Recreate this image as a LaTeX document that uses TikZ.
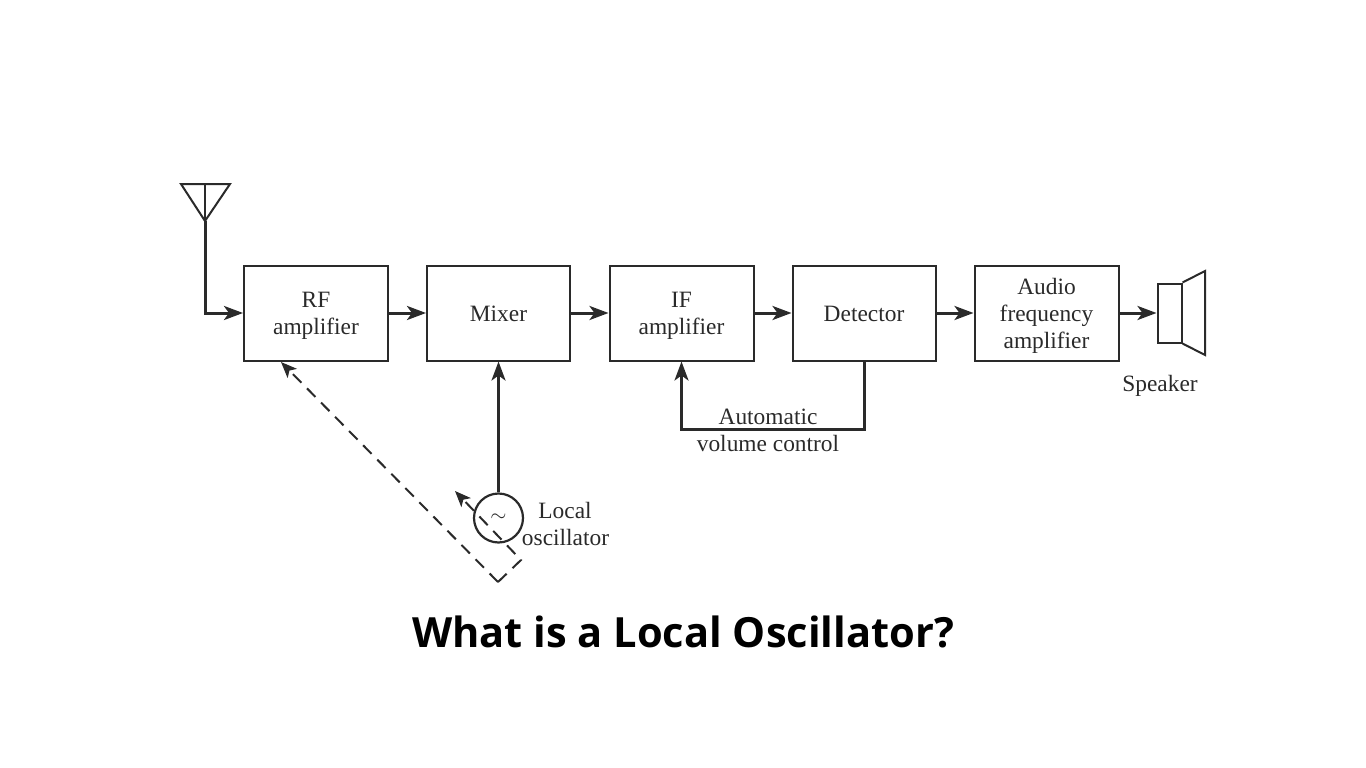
\documentclass[tikz,border=0pt]{standalone}
\usepackage{fontspec}
\setmainfont{Liberation Serif}
\newfontfamily\titlefont{Open Sans}
\usetikzlibrary{arrows.meta,calc}
\definecolor{ink}{HTML}{2A2A2A}
\tikzset{
  x=1pt,y=-1pt,
  block/.style={draw=ink,line width=2pt,fill=white,minimum width=#1,minimum height=95pt,inner sep=0pt},
  block/.default=144pt,
  sig/.style={draw=ink,line width=3pt,-{Stealth[length=19pt,width=14pt,inset=5pt]}},
  thin part/.style={draw=ink,line width=2pt},
  dash part/.style={draw=ink,line width=2pt,dash pattern=on 12pt off 8pt},
  dash tip/.style={-{Stealth[length=16pt,width=13pt,inset=4pt]}},
  lab/.style={inner sep=0pt,align=center,font=\fontsize{23.4}{27}\selectfont,text=ink}
}
\begin{document}
\begin{tikzpicture}
\useasboundingbox (0,0) rectangle (1366,768);
\node[block=144pt,label={[lab,yshift=-3pt]center:{RF\\amplifier}}] (rf) at (316,313) {};
\node[block=143pt,label={[lab,yshift=-1pt]center:{Mixer}}] (mix) at (498.5,313) {};
\node[block=144pt,label={[lab,yshift=-3pt]center:{IF\\amplifier}}] (if) at (681.5,313) {};
\node[block=143pt,label={[lab,yshift=-1pt]center:{Detector}}] (det) at (864,313) {};
\node[block=144pt,label={[lab,yshift=-2.5pt]center:{Audio\\frequency\\amplifier}}] (audio) at (1046.5,313) {};
% antenna
\coordinate (atl) at (181,184);
\coordinate (atr) at (230,184);
\coordinate (atip) at (205,221);
\coordinate (atop) at (205,184);
\coordinate (acorner) at (205,313);
\draw[thin part,line join=miter] (atl) -- (atr) -- (atip) -- cycle;
\draw[thin part] (atop) -- (atip);
\draw[sig] (atip) -- (acorner) -- (rf.west);
\draw[sig] (rf.east) -- (mix.west);
\draw[sig] (mix.east) -- (if.west);
\draw[sig] (if.east) -- (det.west);
\draw[sig] (det.east) -- (audio.west);
% speaker
\node[draw=ink,line width=2pt,minimum width=24pt,minimum height=59pt,inner sep=0pt] (spk) at (1169.5,313) {};
\coordinate (conetop) at (1205,271);
\coordinate (conebot) at (1205,355);
\draw[thin part,line join=miter] (spk.north east) -- (conetop) -- (conebot) -- (spk.south east);
\draw[sig] (audio.east) -- (spk.west);
\node[lab] (spklab) at (1160,386) {Speaker};
% oscillator
\node[draw=ink,line width=2.2pt,circle,minimum size=49pt,inner sep=0pt,font=\fontsize{22}{22}\selectfont,text=ink] (osc) at (498.5,518) {$\sim$};
\draw[sig] (osc.north) -- (mix.south);
\node[lab] (osclab1) at (565,510) {Local};
\node[lab] (osclab2) at (565.5,537) {oscillator};
% AVC
\coordinate (avcr) at (864,429);
\draw[sig] (det.south -| avcr) -- (avcr) -| (if.south);
\node[lab] (avc1) at (768,416.5) {Automatic};
\node[lab] (avc2) at (768,443) {volume control};
% ganged tuning
\coordinate (gb) at (498,582);
\coordinate (gr) at (521,560);
\coordinate (garrow) at (455,491);
\coordinate (rfarrow) at (281,362);
\draw[dash part,dash tip] (gb) -- (rfarrow);
\draw[dash part,dash tip] (gb) -- (gr) -- (garrow);
% title
\node[inner sep=0pt,font=\titlefont\bfseries\fontsize{41.6}{50}\selectfont,text=black] (title) at (683,632) {What is a Local Oscillator?};
\end{tikzpicture}
\end{document}
